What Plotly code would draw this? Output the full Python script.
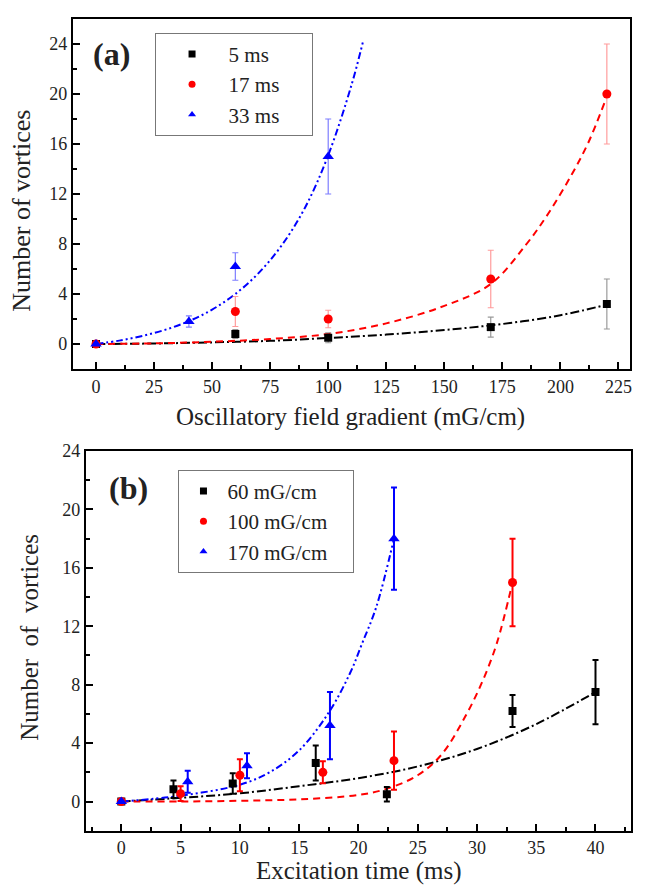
import plotly.graph_objects as go

# ---- panel (a): number of vortices vs oscillatory field gradient ----
grad_5ms = [0, 60, 100, 170, 220]
n_5ms = [0, 0.8, 0.5, 1.35, 3.2]
err_5ms = [0, 0.35, 0.4, 0.8, 2.0]

grad_17ms = [0, 60, 100, 170, 220]
n_17ms = [0, 2.6, 2.0, 5.2, 20]
err_17ms = [0, 1.2, 0.7, 2.3, 4.0]

grad_33ms = [0, 40, 60, 100]
n_33ms = [0, 1.8, 6.2, 15]
err_33ms = [0, 0.45, 1.1, 3.0]

# fitted curves
fit5_x = [0, 25, 50, 75, 100, 125, 150, 175, 200, 220]
fit5_y = [0, 0.04, 0.13, 0.25, 0.48, 0.75, 1.12, 1.6, 2.3, 3.15]
fit17_x = [0, 25, 50, 75, 100, 125, 150, 170, 185, 195, 205, 212, 219]
fit17_y = [0, 0.05, 0.18, 0.4, 0.8, 1.65, 3.05, 4.8, 7.9, 10.5, 13.6, 16.1, 19.3]
fit33_x = [0, 10, 20, 30, 40, 50, 60, 70, 80, 90, 100, 110, 115]
fit33_y = [0, 0.27, 0.65, 1.15, 1.83, 2.75, 4.0, 5.67, 7.9, 10.9, 15.1, 20.7, 24.2]

# ---- panel (b): number of vortices vs excitation time ----
t_60 = [0, 4.4, 9.4, 16.4, 22.4, 33, 40]
n_60 = [0, 0.84, 1.24, 2.64, 0.5, 6.2, 7.5]
err_60 = [0, 0.6, 0.7, 1.2, 0.5, 1.1, 2.2]

t_100 = [0, 5, 10, 17, 23, 33]
n_100 = [0, 0.54, 1.8, 2.0, 2.8, 15]
err_100 = [0, 0.5, 1.1, 0.75, 2.0, 3.0]

t_170 = [0, 5.6, 10.6, 17.6, 23]
n_170 = [0, 1.35, 2.45, 5.2, 18]
err_170 = [0, 0.75, 0.85, 2.3, 3.5]

fit60_x = [0, 5, 10, 15, 20, 25, 30, 35, 40]
fit60_y = [0, 0.25, 0.56, 1.05, 1.6, 2.4, 3.6, 5.3, 7.5]
fit100_x = [0, 5, 10, 15, 20, 22.5, 25, 27, 29, 30.5, 31.7, 33]
fit100_y = [0, 0.0, 0.05, 0.15, 0.45, 0.9, 1.8, 3.2, 5.8, 8.3, 10.9, 15]
fit170_x = [0, 5, 10, 12.5, 15, 17.5, 19.3, 20.3, 21.5, 23]
fit170_y = [0, 0.4, 1.15, 2.0, 3.5, 6.1, 8.8, 10.8, 13.3, 18]

FONT = "Liberation Serif"
W, H = 645, 886
OFF = 8  # page body margin shifts the figure by 8px
PAD = "\u00a0"


def px(v):
    return (v - OFF) / W


def py(v):
    return 1 - (v - OFF) / H


fig = go.Figure()


def add_series(x, y, err, name, color, sym, size, errcol, errw, xa, ya, leg, pad):
    fig.add_trace(go.Scatter(
        x=x, y=y, mode="markers", name=name, xaxis=xa, yaxis=ya, showlegend=False,
        marker=dict(color=color, symbol=sym, size=size),
        error_y=dict(type="data", array=err, color=errcol, thickness=errw, width=3)))
    # legend-only entry with a smaller symbol, like the original key
    fig.add_trace(go.Scatter(
        x=[None], y=[None], mode="markers", name=name + PAD * pad, xaxis=xa, yaxis=ya,
        legend=leg, marker=dict(color=color, symbol=sym, size=7)))


def add_fit(x, y, color, dash, xa, ya):
    fig.add_trace(go.Scatter(
        x=x, y=y, mode="lines", line=dict(color=color, dash=dash, width=2, shape="spline"),
        xaxis=xa, yaxis=ya, showlegend=False, hoverinfo="skip"))


dash_dd = "7px,3px,2px,3px,2px,3px"
dash_d = "7px,5px"
dash_dot = "9px,3px,2px,3px"

add_fit(fit5_x, fit5_y, "black", dash_dot, "x", "y")
add_fit(fit17_x, fit17_y, "red", dash_d, "x", "y")
add_fit(fit33_x, fit33_y, "blue", dash_dd, "x", "y")
add_series(grad_5ms, n_5ms, err_5ms, "5 ms", "black", "square", 8, "rgba(110,110,110,0.7)", 1.2, "x", "y", "legend", 0)
add_series(grad_17ms, n_17ms, err_17ms, "17 ms", "red", "circle", 9, "rgba(255,90,90,0.6)", 1.2, "x", "y", "legend", 0)
add_series(grad_33ms, n_33ms, err_33ms, "33 ms", "blue", "triangle-up", 10, "rgba(70,70,255,0.7)", 1.2, "x", "y", "legend", 5)

add_fit(fit60_x, fit60_y, "black", dash_dot, "x2", "y2")
add_fit(fit100_x, fit100_y, "red", dash_d, "x2", "y2")
add_fit(fit170_x, fit170_y, "blue", dash_dd, "x2", "y2")
add_series(t_60, n_60, err_60, "60 mG/cm", "black", "square", 8, "black", 2, "x2", "y2", "legend2", 0)
add_series(t_100, n_100, err_100, "100 mG/cm", "red", "circle", 9, "red", 2, "x2", "y2", "legend2", 4)
add_series(t_170, n_170, err_170, "170 mG/cm", "blue", "triangle-up", 10, "blue", 2, "x2", "y2", "legend2", 0)

axis_common = dict(showline=True, linecolor="black", linewidth=2, mirror=True,
                   ticks="inside", ticklen=7, tickwidth=1.5, tickcolor="black",
                   showgrid=False, zeroline=False, tickfont=dict(family=FONT, size=18, color="#222"))
minor_common = dict(ticks="inside", ticklen=4, tickcolor="black")

legend_common = dict(xanchor="left", yanchor="top", bordercolor="#777", borderwidth=1,
                     bgcolor="white", tracegroupgap=0,
                     font=dict(family=FONT, size=21, color="#222"))

fig.update_layout(
    width=W, height=H, margin=dict(l=0, r=0, t=0, b=0),
    paper_bgcolor="white", plot_bgcolor="white",
    font=dict(family=FONT, color="#222"),
    xaxis=dict(axis_common, domain=[px(73), px(632)], range=[-10, 230], dtick=25, tick0=0,
               minor=dict(minor_common, dtick=12.5), anchor="y"),
    yaxis=dict(axis_common, domain=[py(363), py(9)], range=[-2, 26], dtick=4, tick0=0,
               minor=dict(minor_common, dtick=2), anchor="x"),
    xaxis2=dict(axis_common, domain=[px(86), px(633)], range=[-3, 43], dtick=5, tick0=0,
                minor=dict(minor_common, dtick=2.5), anchor="y2"),
    yaxis2=dict(axis_common, domain=[py(830), py(446)], range=[-2, 24], dtick=4, tick0=0,
                minor=dict(minor_common, dtick=2), anchor="x2"),
    legend=dict(legend_common, x=px(155), y=py(23), itemwidth=63),
    legend2=dict(legend_common, x=px(179), y=py(465), itemwidth=38),
    showlegend=True,
)

ann = [
    dict(text="<b>(a)</b>", x=112, y=44, size=32, angle=0),
    dict(text="<b>(b)</b>", x=129, y=483, size=32, angle=0),
    dict(text="Number of vortices", x=22, y=203, size=26, angle=-90),
    dict(text="Number  of  vortices", x=30, y=634, size=25, angle=-90),
    dict(text="Oscillatory field gradient (mG/cm)", x=352, y=412, size=25, angle=0),
    dict(text="Excitation time (ms)", x=360, y=871, size=25, angle=0),
]
for a in ann:
    fig.add_annotation(text=a["text"], x=px(a["x"]), y=py(a["y"]), xref="paper", yref="paper",
                       xanchor="center", yanchor="middle", showarrow=False, textangle=a["angle"],
                       font=dict(family=FONT, size=a["size"], color="#222"))

fig.write_html("out.html")
